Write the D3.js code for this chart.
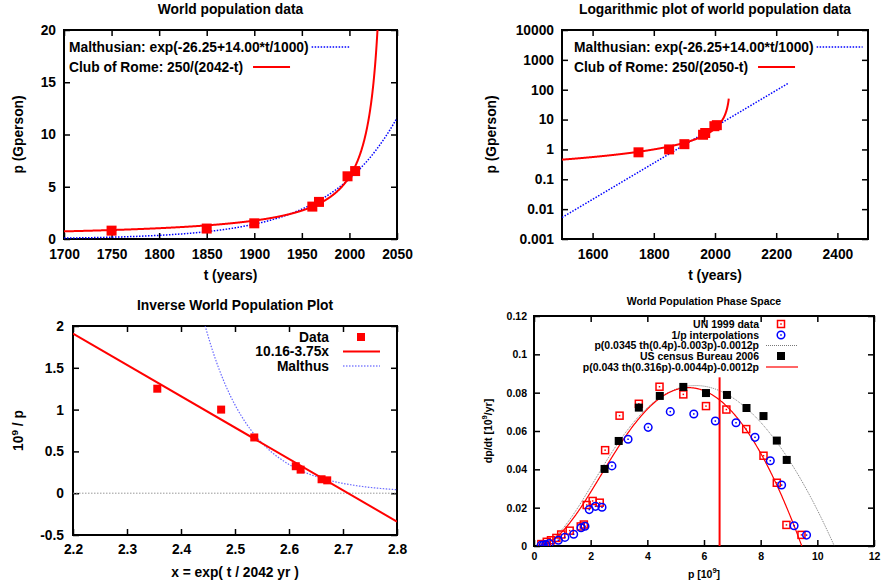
<!DOCTYPE html>
<html>
<head>
<meta charset="utf-8">
<script src="https://cdn.jsdelivr.net/npm/d3@7"></script>
<style>
  body { margin: 0; background: #fff; }
  svg { font-family: "Liberation Sans", Arial, Helvetica, sans-serif; font-weight: bold; }
</style>
</head>
<body>
<div id="chart"></div>
<script>
// データ: 世界人口 (Gperson)
const years = [1750, 1850, 1900, 1961, 1968, 1998, 2006];
const population = [0.8, 1.0, 1.5, 3.1, 3.55, 6.0, 6.5];

// モデル係数
const malthus = [-26.25, 14.00];      // exp(a + b*t/1000)
const clubRome1 = [250, 2042];        // c/(T-t)
const clubRome2 = [250, 2050];
const inverseFit = [10.16, -3.75];    // a + b*x
const inverseScale = 2042;            // x = exp(t/2042)
const phaseA = [0.0345, 0.4, 0.00314, 0.0012];  // p(a th(bp) - cp) - dp
const phaseB = [0.043, 0.316, 0.0044, 0.0012];
const currentP = 6.55;
const currentRate = 0.088;

// 位相空間データ
const unP = [0.26, 0.45, 0.6, 0.79, 0.96, 1.26, 1.65, 1.76, 1.86, 2.07, 2.32, 2.51, 3.02, 3.70, 4.43, 5.27, 6.07, 6.79, 7.49, 8.10, 8.57, 8.91, 9.44];
const unRate = [0.001, 0.0022, 0.003, 0.0042, 0.006, 0.008, 0.0102, 0.0112, 0.0214, 0.0235, 0.0226, 0.050, 0.068, 0.0742, 0.0831, 0.0791, 0.073, 0.0712, 0.061, 0.0471, 0.033, 0.011, 0.0058];
const interpP = [0.25, 0.33, 0.42, 0.54, 0.86, 1.09, 1.40, 1.66, 1.80, 1.95, 2.17, 2.40, 2.75, 3.32, 4.03, 4.81, 5.64, 6.40, 7.13, 7.80, 8.34, 8.74, 9.18, 9.62];
const interpRate = [0.0003, 0.0005, 0.0008, 0.0013, 0.003, 0.0045, 0.0061, 0.0095, 0.0103, 0.019, 0.0207, 0.0202, 0.0418, 0.0557, 0.0619, 0.0701, 0.0689, 0.0652, 0.0643, 0.0567, 0.0445, 0.0318, 0.0106, 0.0057];
const censusP = [2.49, 2.99, 3.70, 4.44, 5.27, 6.07, 6.81, 7.50, 8.10, 8.57, 8.92];
const censusRate = [0.0402, 0.0548, 0.0722, 0.0783, 0.083, 0.0798, 0.0788, 0.072, 0.0678, 0.055, 0.0449];

// 目盛り
const ticks1x = [1700, 1750, 1800, 1850, 1900, 1950, 2000, 2050];
const ticks1y = [0, 5, 10, 15, 20];
const ticks2x = [1600, 1800, 2000, 2200, 2400];
const ticks2y = [0.001, 0.01, 0.1, 1, 10, 100, 1000, 10000];
const ticks3x = [2.2, 2.3, 2.4, 2.5, 2.6, 2.7, 2.8];
const ticks3y = [-0.5, 0, 0.5, 1, 1.5, 2];
const ticks4x = [0, 2, 4, 6, 8, 10, 12];
const ticks4y = [0, 0.02, 0.04, 0.06, 0.08, 0.1, 0.12];

const RED = '#ff0000';
const BLUE = '#0000ff';
const FS = 13.8;   // 上段・左下の文字サイズ
const FS4 = 10.5;  // 右下の文字サイズ

const svg = d3.select('#chart')
  .append('svg')
  .attr('width', 882)
  .attr('height', 583);

svg.append('rect').attr('width', 882).attr('height', 583).attr('fill', '#fff');

const malthusFn = t => Math.exp(malthus[0] + malthus[1] * t / 1000);
const phaseFn = (m, p) => p * (m[0] * Math.tanh(m[1] * p) - m[2] * p) - m[3] * p;

let clipId = 0;

// 枠と目盛りを描く
function frame(o) {
  const g = svg.append('g');
  const fs = o.fontSize;
  const id = 'clip' + (clipId++);
  svg.append('clipPath').attr('id', id)
    .append('rect')
    .attr('x', o.x.range()[0]).attr('y', o.y.range()[1])
    .attr('width', o.x.range()[1] - o.x.range()[0])
    .attr('height', o.y.range()[0] - o.y.range()[1]);

  const [xl, xr] = o.x.range();
  const [yb, yt] = o.y.range();

  const axes = [
    [d3.axisBottom(o.x).tickValues(o.xTicks).tickPadding(o.xPad).tickFormat(o.xFmt || String), `translate(0,${yb})`],
    [d3.axisTop(o.x).tickValues(o.xTicks).tickFormat(''), `translate(0,${yt})`],
    [d3.axisLeft(o.y).tickValues(o.yTicks).tickPadding(o.yPad).tickFormat(o.yFmt || String), `translate(${xl},0)`],
    [d3.axisRight(o.y).tickValues(o.yTicks).tickFormat(''), `translate(${xr},0)`]
  ];
  axes.forEach(([ax, tr]) => {
    const a = g.append('g')
      .attr('transform', tr)
      .call(ax.tickSizeInner(-6).tickSizeOuter(0));
    a.select('.domain').remove();
    a.selectAll('line').attr('stroke', '#000').attr('stroke-width', 1.5);
    a.selectAll('text')
      .attr('fill', '#000')
      .attr('font-size', fs)
      .attr('font-family', null)
      .attr('font-weight', 'bold');
  });

  g.append('rect')
    .attr('x', xl).attr('y', yt)
    .attr('width', xr - xl).attr('height', yb - yt)
    .attr('fill', 'none').attr('stroke', '#000').attr('stroke-width', 2);

  // タイトル・軸ラベル
  const cx = (xl + xr) / 2;
  svg.append('text')
    .attr('x', o.titleX || cx).attr('y', o.titleY)
    .attr('text-anchor', 'middle').attr('font-size', fs)
    .text(o.title);

  const xlab = svg.append('text')
    .attr('x', cx).attr('y', o.xLabelY)
    .attr('text-anchor', 'middle').attr('font-size', fs);
  o.xLabel(xlab);

  const ylab = svg.append('text')
    .attr('transform', `translate(${o.yLabelX},${(yt + yb) / 2}) rotate(-90)`)
    .attr('dy', '0.35em')
    .attr('text-anchor', 'middle').attr('font-size', fs);
  o.yLabel(ylab);

  const plot = svg.append('g').attr('clip-path', `url(#${id})`);
  return plot;
}

function sup(sel, before, s, after) {
  sel.append('tspan').text(before);
  sel.append('tspan').attr('dy', -5).attr('font-size', '72%').text(s);
  sel.append('tspan').attr('dy', 5).text(after);
}

function squares(g, pts, size, color) {
  g.selectAll(null).data(pts).enter()
    .append('rect')
    .attr('x', d => d[0] - size / 2).attr('y', d => d[1] - size / 2)
    .attr('width', size).attr('height', size)
    .attr('fill', color);
}

function curve(g, pts, color, width, dash, opacity) {
  g.append('path')
    .datum(pts)
    .attr('d', d3.line())
    .attr('fill', 'none')
    .attr('stroke', color)
    .attr('stroke-width', width)
    .attr('stroke-dasharray', dash || null)
    .attr('opacity', opacity || 1);
}

function legendLeft(x0, yc, label, gap, len, color, dash, width, fs) {
  const t = svg.append('text')
    .attr('x', x0).attr('y', yc).attr('dy', '0.35em')
    .attr('font-size', fs).text(label);
  const w = t.node().getComputedTextLength();
  svg.append('line')
    .attr('x1', x0 + w + gap).attr('x2', x0 + w + gap + len)
    .attr('y1', yc).attr('y2', yc)
    .attr('stroke', color).attr('stroke-width', width)
    .attr('stroke-dasharray', dash);
}

// ---------- 1: World population data ----------
{
  const x = d3.scaleLinear().domain([1700, 2050]).range([64, 397]);
  const y = d3.scaleLinear().domain([0, 20]).range([239, 30]);
  const g = frame({
    x, y, xTicks: ticks1x, yTicks: ticks1y, xPad: 10, yPad: 8, fontSize: FS,
    title: 'World population data', titleY: 14, xLabelY: 280, yLabelX: 18,
    xLabel: s => s.text('t (years)'),
    yLabel: s => s.text('p (Gperson)')
  });
  const ts = d3.range(1700, 2050.01, 1);
  curve(g, ts.map(t => [x(t), y(malthusFn(t))]), BLUE, 1.5, '1.5,1.5');
  const tr = d3.range(1700, clubRome1[1] - 0.5, 0.25);
  curve(g, tr.map(t => [x(t), y(clubRome1[0] / (clubRome1[1] - t))]), RED, 2);
  squares(g, years.map((t, i) => [x(t), y(population[i])]), 10, RED);

  legendLeft(69, 47, 'Malthusian: exp(-26.25+14.00*t/1000)', 3, 39, BLUE, '1.5,1.5', 1.5, FS);
  legendLeft(69, 67, 'Club of Rome: 250/(2042-t)', 10, 37, RED, null, 2, FS);
}

// ---------- 2: Logarithmic plot ----------
{
  const x = d3.scaleLinear().domain([1500, 2500]).range([562, 868]);
  const y = d3.scaleLog().domain([0.001, 10000]).range([239, 30]);
  const g = frame({
    x, y, xTicks: ticks2x, yTicks: ticks2y, xPad: 10, yPad: 8, fontSize: FS,
    title: 'Logarithmic plot of world population data', titleY: 14, xLabelY: 280, yLabelX: 491,
    xLabel: s => s.text('t (years)'),
    yLabel: s => s.text('p (Gperson)')
  });
  const ts = d3.range(1500, 2240.01, 1);
  curve(g, ts.map(t => [x(t), y(malthusFn(t))]), BLUE, 1.5, '1.5,1.5');
  const tr = d3.range(1500, 2045.01, 0.5);
  curve(g, tr.map(t => [x(t), y(clubRome2[0] / (clubRome2[1] - t))]), RED, 2);
  squares(g, years.map((t, i) => [x(t), y(population[i])]), 10, RED);

  legendLeft(574, 47, 'Malthusian: exp(-26.25+14.00*t/1000)', 3, 46, BLUE, '1.5,1.5', 1.5, FS);
  legendLeft(574, 67, 'Club of Rome: 250/(2050-t)', 10, 37, RED, null, 2, FS);
}

// ---------- 3: Inverse plot ----------
{
  const x = d3.scaleLinear().domain([2.2, 2.8]).range([73, 397]);
  const y = d3.scaleLinear().domain([-0.5, 2]).range([535, 326]);
  const g = frame({
    x, y, xTicks: ticks3x, yTicks: ticks3y, xPad: 9, yPad: 9, fontSize: FS,
    xFmt: d3.format('.1f'),
    title: 'Inverse World Population Plot', titleY: 310, xLabelY: 577, yLabelX: 18,
    xLabel: s => s.text('x = exp( t / 2042 yr )'),
    yLabel: s => sup(s, '10', '9', ' / p')
  });
  curve(g, [[x(2.2), y(0)], [x(2.8), y(0)]], '#999', 1, '1.5,1.5');
  const xs = d3.range(2.2, 2.8001, 0.002);
  curve(g, xs.map(v => [x(v), y(1 / malthusFn(inverseScale * Math.log(v)))]), '#4444ff', 1.2, '1.5,1.5', 0.8);
  curve(g, [2.2, 2.8].map(v => [x(v), y(inverseFit[0] + inverseFit[1] * v)]), RED, 2);
  squares(g, years.map((t, i) => [x(Math.exp(t / inverseScale)), y(1 / population[i])]), 8, RED);

  const rows = [
    { label: 'Data', type: 'point' },
    { label: '10.16-3.75x', type: 'line', color: RED, dash: null, w: 2 },
    { label: 'Malthus', type: 'line', color: '#4444ff', dash: '1.5,1.5', w: 1.2 }
  ];
  const ly = [337, 351.5, 366];
  rows.forEach((r, i) => {
    svg.append('text').attr('x', 329).attr('y', ly[i]).attr('dy', '0.35em')
      .attr('text-anchor', 'end').attr('font-size', FS).text(r.label);
    if (r.type === 'point') {
      svg.append('rect').attr('x', 357).attr('y', ly[i] - 4).attr('width', 8).attr('height', 8).attr('fill', RED);
    } else {
      svg.append('line').attr('x1', 343).attr('x2', 380).attr('y1', ly[i]).attr('y2', ly[i])
        .attr('stroke', r.color).attr('stroke-width', r.w).attr('stroke-dasharray', r.dash);
    }
  });
}

// ---------- 4: Phase space ----------
function unMark(sel, color) {
  sel.append('rect').attr('x', -3.5).attr('y', -3.5).attr('width', 7).attr('height', 7)
    .attr('fill', 'none').attr('stroke', color).attr('stroke-width', 1.5);
  sel.append('rect').attr('x', -0.75).attr('y', -0.75).attr('width', 1.5).attr('height', 1.5).attr('fill', color);
}
function circMark(sel, color) {
  sel.append('circle').attr('r', 3.8)
    .attr('fill', 'none').attr('stroke', color).attr('stroke-width', 1.5);
  sel.append('rect').attr('x', -0.75).attr('y', -0.75).attr('width', 1.5).attr('height', 1.5).attr('fill', color);
}
{
  const x = d3.scaleLinear().domain([0, 12]).range([534, 874]);
  const y = d3.scaleLinear().domain([0, 0.12]).range([546, 316]);
  const g = frame({
    x, y, xTicks: ticks4x, yTicks: ticks4y, xPad: 7, yPad: 7, fontSize: FS4,
    title: 'World Population Phase Space', titleY: 305, xLabelY: 578, yLabelX: 488,
    xLabel: s => sup(s, 'p [10', '9', ']'),
    yLabel: s => sup(s, 'dp/dt [10', '9', '/yr]')
  });
  const ps = d3.range(0.25, 12, 0.02);
  curve(g, ps.map(p => [x(p), y(phaseFn(phaseA, p))]), '#555', 0.8, '1,1');
  curve(g, ps.map(p => [x(p), y(phaseFn(phaseB, p))]), RED, 1.2);
  curve(g, [[x(currentP), y(0)], [x(currentP), y(currentRate)]], RED, 2);

  g.selectAll(null).data(unP.map((p, i) => [x(p), y(unRate[i])])).enter()
    .append('g').attr('transform', d => `translate(${d[0]},${d[1]})`)
    .each(function () { unMark(d3.select(this), RED); });
  g.selectAll(null).data(interpP.map((p, i) => [x(p), y(interpRate[i])])).enter()
    .append('g').attr('transform', d => `translate(${d[0]},${d[1]})`)
    .each(function () { circMark(d3.select(this), BLUE); });
  squares(g, censusP.map((p, i) => [x(p), y(censusRate[i])]), 8, '#000');

  const ly = [324, 335, 345.5, 356, 367];
  const rows = ['UN 1999 data', '1/p interpolations', 'p(0.0345 th(0.4p)-0.003p)-0.0012p', 'US census Bureau 2006', 'p(0.043 th(0.316p)-0.0044p)-0.0012p'];
  rows.forEach((r, i) => {
    svg.append('text').attr('x', 759).attr('y', ly[i]).attr('dy', '0.35em')
      .attr('text-anchor', 'end').attr('font-size', FS4).text(r);
  });
  unMark(svg.append('g').attr('transform', `translate(781,${ly[0]})`), RED);
  circMark(svg.append('g').attr('transform', `translate(781,${ly[1]})`), BLUE);
  svg.append('line').attr('x1', 766).attr('x2', 798).attr('y1', ly[2]).attr('y2', ly[2])
    .attr('stroke', '#555').attr('stroke-width', 0.8).attr('stroke-dasharray', '1,1');
  svg.append('rect').attr('x', 777).attr('y', ly[3] - 4).attr('width', 8).attr('height', 8).attr('fill', '#000');
  svg.append('line').attr('x1', 766).attr('x2', 798).attr('y1', ly[4]).attr('y2', ly[4])
    .attr('stroke', RED).attr('stroke-width', 1.2);
}
</script>
</body>
</html>
